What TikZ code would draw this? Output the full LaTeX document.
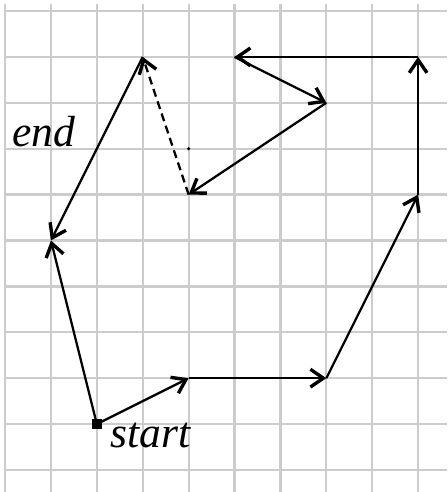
\documentclass[tikz,border=0pt]{standalone}
\usepackage{fontspec}
\setmainfont{Liberation Serif}
\usetikzlibrary{arrows.meta,positioning,calc}
\definecolor{gridline}{gray}{0.80}

\begin{document}
\begin{tikzpicture}[x=1cm,y=1cm,
  vec/.style={line width=1.4pt,-{Straight Barb[length=8pt,width=11pt,line width=2.1pt]}},
  lbl/.style={font=\fontsize{27}{31}\selectfont\itshape,anchor=base west,inner sep=0pt}]
\useasboundingbox (-0.11,-10.48) rectangle (9.63,0.24);
\begin{scope}
\foreach \i in {0,...,9}
  \draw[draw=gridline,line width=1.4pt] (\i,0.15)--(\i,-10.48);
\foreach \j in {0,...,10}
  \draw[draw=gridline,line width=1.4pt] (0,-\j)--(9.63,-\j);
\end{scope}
\coordinate (p1) at (4,-8);
\coordinate (p2) at (7,-8);
\coordinate (p3) at (9,-4);
\coordinate (p4) at (9,-1);
\coordinate (p5) at (5,-1);
\coordinate (p6) at (7,-2);
\coordinate (p7) at (4,-4);
\coordinate (p8) at (3,-1);
\coordinate (e) at (1,-5);
\node[fill,minimum size=6.5pt,inner sep=0pt] (s) at (2,-9) {};
\draw[vec] (s.center)--(p1);
\draw[vec] (p1)--(p2);
\draw[vec] (p2)--(p3);
\draw[vec] (p3)--(p4);
\draw[vec] (p4)--(p5);
\draw[vec] (p5)--(p6);
\draw[vec] (p6)--(p7);
\draw[vec,dash pattern=on 5pt off 3pt] (p7)--(p8);
\draw[vec] (p8)--(e);
\draw[vec] (s.center)--(e);
\fill (4,-3) circle (1.1pt);
\node[lbl] (endlbl) at (0.15,-2.96) {end};
\node[lbl] (startlbl) at (2.29,-9.5) {start};
\end{tikzpicture}
\end{document}
